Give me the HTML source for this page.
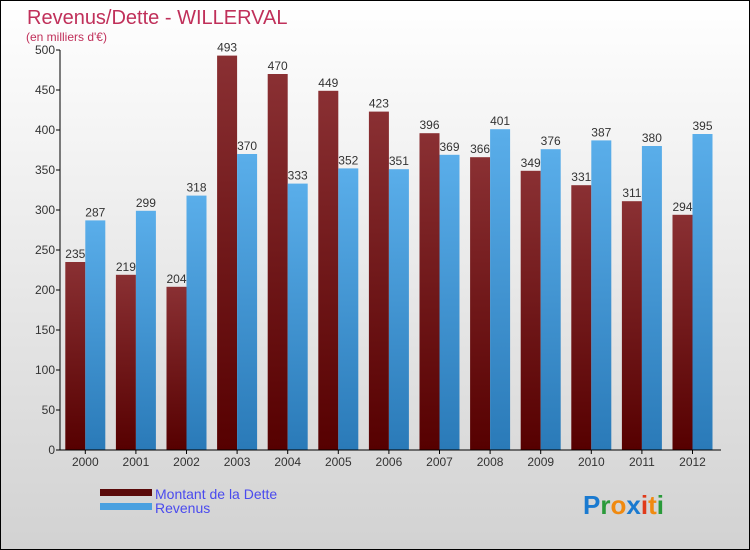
<!DOCTYPE html>
<html><head><meta charset="utf-8"><style>
body{margin:0}
svg{display:block;font-family:"Liberation Sans",sans-serif}
</style></head><body>
<svg width="750" height="550" xmlns="http://www.w3.org/2000/svg">
<defs>
<linearGradient id="bg" x1="0" y1="0" x2="0" y2="1"><stop offset="0" stop-color="#ffffff"/><stop offset="1" stop-color="#d2d2d2"/></linearGradient>
<linearGradient id="gd" x1="0" y1="0" x2="0" y2="1"><stop offset="0" stop-color="#8a3033"/><stop offset="1" stop-color="#560000"/></linearGradient>
<linearGradient id="gr" x1="0" y1="0" x2="0" y2="1"><stop offset="0" stop-color="#5aaeea"/><stop offset="1" stop-color="#2a7ab8"/></linearGradient>
</defs>
<rect x="0.5" y="0.5" width="749" height="549" fill="url(#bg)" stroke="#000"/>
<text x="27" y="24" font-size="20" fill="#c0305a">Revenus/Dette - WILLERVAL</text>
<text x="26" y="41" font-size="12" fill="#c0305a">(en milliers d'€)</text>
<g id="grid"></g>
<g id="bars"></g>
<g id="axes"></g>
<g>
<rect x="100" y="489" width="52" height="7" fill="#5a0a0a"/>
<text x="155" y="499" font-size="14" fill="#4a4aee">Montant de la Dette</text>
<rect x="100" y="503" width="52" height="7" fill="#4aa0e0"/>
<text x="155" y="513" font-size="14" fill="#4a4aee">Revenus</text>
</g>
<text x="583" y="514" font-size="26" font-weight="bold"><tspan fill="#1a7ad0">P</tspan><tspan fill="#2a9a3a">r</tspan><tspan fill="#f08a10">o</tspan><tspan fill="#1a7ad0">x</tspan><tspan fill="#e03a1a">i</tspan><tspan fill="#f08a10">t</tspan><tspan fill="#2a9a3a">i</tspan></text>
</svg>
<script>
const categories=["2000","2001","2002","2003","2004","2005","2006","2007","2008","2009","2010","2011","2012"];
const dette=[235,219,204,493,470,449,423,396,366,349,331,311,294];
const revenus=[287,299,318,370,333,352,351,369,401,376,387,380,395];
const yTicks=[0,50,100,150,200,250,300,350,400,450,500];
const NS="http://www.w3.org/2000/svg";
const x0=60,band=50.6,bw=20,yBase=450,yTop=50,yMax=500;
const y=v=>yBase-(v/yMax)*(yBase-yTop);
const cx=i=>x0+band*(i+0.5);
function mk(tag,attrs,parent,text){const e=document.createElementNS(NS,tag);for(const k in attrs)e.setAttribute(k,attrs[k]);if(text!==undefined)e.textContent=text;document.getElementById(parent).appendChild(e);return e;}
yTicks.forEach(t=>{
 const g=mk("line",{x1:x0,x2:721,y1:y(t),y2:y(t),stroke:"#ffffff","stroke-opacity":"0.0"},"grid");
 
 
 const tk=mk("line",{x1:x0-4,x2:x0,y1:y(t),y2:y(t),stroke:"#000"},"axes");
 
 
 const lb=mk("text",{x:x0-5,y:y(t)+4,"font-size":"12","text-anchor":"end",fill:"#333"},"axes",t);
 
 
});
categories.forEach((c,i)=>{
 const d=mk("rect",{x:cx(i)-bw,y:y(dette[i]),width:bw,height:yBase-y(dette[i]),fill:"url(#gd)"},"bars");
 
 
 const r=mk("rect",{x:cx(i),y:y(revenus[i]),width:bw,height:yBase-y(revenus[i]),fill:"url(#gr)"},"bars");
 
 
 const dl=mk("text",{x:cx(i)-bw/2,y:y(dette[i])-4,"font-size":"12","text-anchor":"middle",fill:"#333"},"bars",dette[i]);
 
 
 const rl=mk("text",{x:cx(i)+bw/2,y:y(revenus[i])-4,"font-size":"12","text-anchor":"middle",fill:"#333"},"bars",revenus[i]);
 
 
 const tk=mk("line",{x1:cx(i),x2:cx(i),y1:yBase,y2:yBase+4,stroke:"#000"},"axes");
 
 
 const xl=mk("text",{x:cx(i),y:yBase+16,"font-size":"12","text-anchor":"middle",fill:"#333"},"axes",c);
 
 
});
const ya=mk("line",{x1:x0,x2:x0,y1:yTop,y2:yBase,stroke:"#000"},"axes");


const xa=mk("line",{x1:x0,x2:721,y1:yBase,y2:yBase,stroke:"#000"},"axes");


</script>
</body></html>
